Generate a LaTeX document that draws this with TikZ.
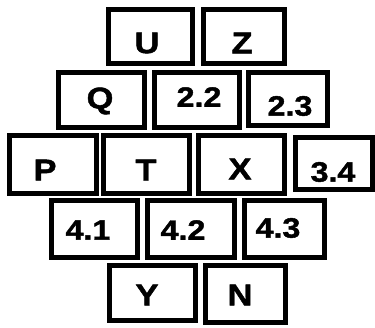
\documentclass[tikz,border=0pt]{standalone}
\usepackage{fontspec}
\newfontfamily\lblfont[FakeStretch=1.15, FakeBold=1.5]{Liberation Sans}
\tikzset{
  box/.style={draw=black, line width=5pt, fill=white, inner sep=0pt},
  lbl/.style={font=\lblfont\bfseries\fontsize{28}{28}\selectfont, inner sep=0pt, anchor=center},
  lblL/.style={font=\lblfont\bfseries\fontsize{30}{30}\selectfont, inner sep=0pt, anchor=center}
}
% \bx{name}{x1}{y1}{x2}{y2}  outer pixel coords, y downwards
\newcommand{\bx}[5]{%
  \node[box, minimum width={(#4-#2-5)*1pt}, minimum height={(#5-#3-5)*1pt}]
    (#1) at ({(#2+#4)/2*1pt},{(327-(#3+#5)/2)*1pt}) {};}
\newcommand{\tx}[5]{%
  \node[#5] (#1) at ({#2*1pt},{(327-#3)*1pt}) {#4};}
\begin{document}
\begin{tikzpicture}
\useasboundingbox[fill=white] (0,0) rectangle (375pt,327pt);
% row 1
\bx{bU}{106}{7}{195}{66}   \tx{tU}{147}{43}{U}{lblL}
\bx{bZ}{201}{7}{287}{66}   \tx{tZ}{242}{43}{Z}{lblL}
% row 2
\bx{bQ}{56}{70}{147}{130}  \tx{tQ}{100}{101}{Q}{lblL}
\bx{b22}{152}{70}{242}{130} \tx{t22}{199}{97}{2.2}{lbl}
\bx{b23}{246}{70}{330}{128} \tx{t23}{290}{106}{2.3}{lbl}
% row 3
\bx{bP}{7}{133}{99}{196}   \tx{tP}{45}{170}{P}{lblL}
\bx{bT}{101}{133}{192}{196} \tx{tT}{146}{170}{T}{lblL}
\bx{bX}{196}{133}{287}{196} \tx{tX}{240}{169}{X}{lblL}
\bx{b34}{293}{135}{375}{192} \tx{t34}{333}{172}{3.4}{lbl}
% row 4
\bx{b41}{49}{198}{140}{260} \tx{t41}{88}{230}{4.1}{lbl}
\bx{b42}{145}{198}{237}{260} \tx{t42}{183}{230}{4.2}{lbl}
\bx{b43}{242}{198}{327}{260} \tx{t43}{278}{228}{4.3}{lbl}
% row 5
\bx{bY}{107}{263}{198}{323} \tx{tY}{147}{295}{Y}{lblL}
\bx{bN}{203}{263}{288}{325} \tx{tN}{240}{295}{N}{lblL}
\end{tikzpicture}
\end{document}
